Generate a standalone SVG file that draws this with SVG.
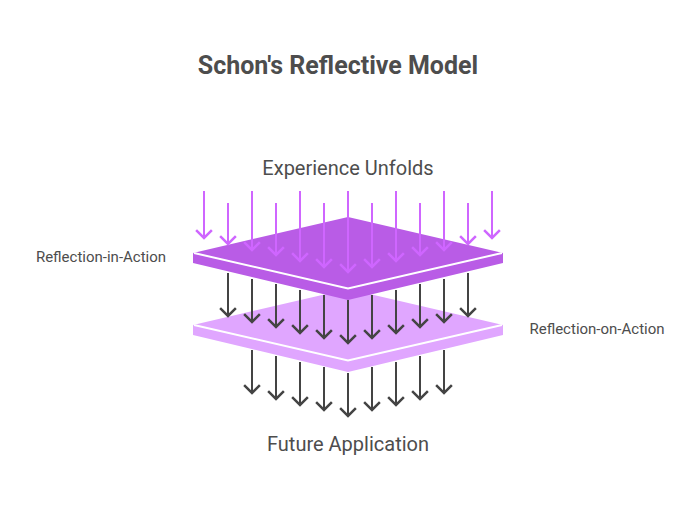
<svg xmlns="http://www.w3.org/2000/svg" width="696" height="505" viewBox="0 0 696 505">
<defs>
<marker id="hp" markerUnits="userSpaceOnUse" markerWidth="18" markerHeight="12" refX="8" refY="8" viewBox="0 0 16 10" overflow="visible"><path d="M1 1 L8 8 L15 1" fill="none" stroke="#cf66ff" stroke-width="2.2"/></marker>
<marker id="hd" markerUnits="userSpaceOnUse" markerWidth="18" markerHeight="12" refX="8" refY="8" viewBox="0 0 16 10" overflow="visible"><path d="M1 1 L8 8 L15 1" fill="none" stroke="#444" stroke-width="2.2"/></marker>
</defs>
<style>
text{font-family:Roboto,"Liberation Sans",sans-serif;fill:#4d4d4d;text-anchor:middle}
.t{font-size:25px;font-weight:700}
.h{font-size:20px}
.l{font-size:15px}
.p{stroke:#cf66ff;stroke-width:2;fill:none;marker-end:url(#hp)}
.d{stroke:#444;stroke-width:2;fill:none;marker-end:url(#hd)}
.w{stroke:#fff;stroke-width:2;fill:none}
</style>
<rect width="696" height="505" fill="#fff"/>
<text class="t" x="338" y="73.500">Schon's Reflective Model</text>
<g id="node-lower-plate">
<path d="M193 325 L348 289 L503 325 L503 335 L348 372 L193 335 Z" fill="#e0a6ff"/>
<path class="w" d="M194 325 L348 360.500 L502 325"/>
</g>
<g id="connectors-lower">
<path class="d" d="M252 350V393"/><path class="d" d="M276 356V399"/><path class="d" d="M300 362V405"/><path class="d" d="M324 367V410"/><path class="d" d="M348 373V416"/><path class="d" d="M372 367V410"/><path class="d" d="M396 362V405"/><path class="d" d="M420 356V399"/><path class="d" d="M444 350V393"/>
</g>
<g id="connectors-middle">
<path class="d" d="M228 273V316"/><path class="d" d="M252 279V322"/><path class="d" d="M276 284V327"/><path class="d" d="M300 290V333"/><path class="d" d="M324 295V338"/><path class="d" d="M348 300V343"/><path class="d" d="M372 295V338"/><path class="d" d="M396 290V333"/><path class="d" d="M420 284V327"/><path class="d" d="M444 279V322"/><path class="d" d="M468 273V316"/>
</g>
<g id="node-upper-plate">
<path d="M193 253 L348 217 L503 253 L503 263 L348 300 L193 263 Z" fill="#b95ce6"/>
<path class="w" d="M194 253 L348 288.500 L502 253"/>
</g>
<g id="connectors-upper">
<path class="p" d="M204 191V238"/><path class="p" d="M228 203V244"/><path class="p" d="M252 191V250"/><path class="p" d="M276 203V255"/><path class="p" d="M300 191V261"/><path class="p" d="M324 203V267"/><path class="p" d="M348 191V272"/><path class="p" d="M372 203V267"/><path class="p" d="M396 191V261"/><path class="p" d="M420 203V255"/><path class="p" d="M444 191V250"/><path class="p" d="M468 203V244"/><path class="p" d="M492 191V238"/>
</g>
<g id="node-experience"><text class="h" x="348" y="175">Experience Unfolds</text></g>
<g id="node-future"><text class="h" x="348" y="451">Future Application</text></g>
<g id="node-in-action"><text class="l" x="101" y="262">Reflection-in-Action</text></g>
<g id="node-on-action"><text class="l" x="597" y="334">Reflection-on-Action</text></g>
</svg>
